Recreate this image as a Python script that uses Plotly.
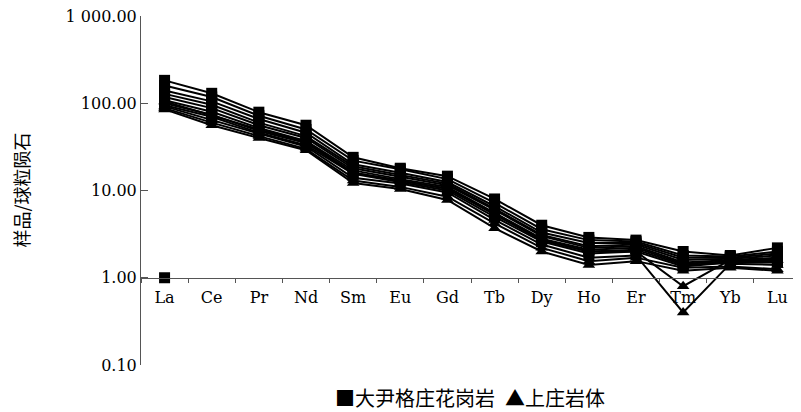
import plotly.graph_objects as go

elements = ["La", "Ce", "Pr", "Nd", "Sm", "Eu", "Gd", "Tb", "Dy", "Ho", "Er", "Tm", "Yb", "Lu"]

# 大尹格庄花岗岩 (squares)
dyg_1 = [183, 130, 79, 56, 24, 18, 14.6, 8.0, 4.0, 2.9, 2.7, 2.0, 1.8, 2.2]
dyg_2 = [160, 118, 72, 50, 22, 17.5, 13.5, 7.2, 3.6, 2.7, 2.6, 1.8, 1.75, 2.0]
dyg_3 = [140, 105, 66, 46, 20, 16, 12.5, 6.6, 3.3, 2.5, 2.5, 1.7, 1.7, 1.9]
dyg_4 = [128, 96, 60, 42, 19, 15, 12, 6.2, 3.1, 2.3, 2.4, 1.6, 1.65, 1.8]
dyg_5 = [118, 88, 56, 40, 18, 14.5, 11.5, 6.0, 3.0, 2.2, 2.3, 1.5, 1.6, 1.7]
dyg_6 = [108, 80, 52, 37, 17, 13.5, 11, 5.6, 2.8, 2.1, 2.2, 1.45, 1.55, 1.6]
dyg_7 = [100, 74, 48, 35, 16, 13, 10.5, 5.3, 2.7, 2.0, 2.1, 1.4, 1.5, 1.55]
dyg_8 = [95, 70, 46, 33, 15.5, 12.5, 10, 5.0, 2.6, 1.9, 2.0, 1.35, 1.5, 1.5]

# 上庄岩体 (triangles)
sz_1 = [105, 72, 50, 36, 16, 13, 10.5, 5.5, 2.7, 2.0, 2.0, 0.8, 1.6, 1.6]
sz_2 = [92, 64, 45, 32, 14, 12, 9.5, 4.6, 2.4, 1.7, 1.8, 0.4, 1.45, 1.4]
sz_3 = [88, 60, 42, 30, 13, 11, 8.5, 4.2, 2.2, 1.55, 1.7, 1.3, 1.35, 1.25]
sz_4 = [85, 56, 40, 29, 12.2, 10.4, 7.8, 3.7, 2.0, 1.4, 1.55, 1.2, 1.3, 1.2]

# stray square marker sitting on the axis at La
stray_x = ["La"]
stray_y = [1.0]

y_tickvals = [0.1, 1, 10, 100, 1000]
y_ticktext = ["0.10", "1.00", "10.00", "100.00", "1 000.00"]

legend_text = "■大尹格庄花岗岩\u2002▲上庄岩体"
y_title = "样品/球粒陨石"

fig = go.Figure()

for s in [dyg_1, dyg_2, dyg_3, dyg_4, dyg_5, dyg_6, dyg_7, dyg_8]:
    fig.add_trace(go.Scatter(x=elements, y=s, mode="lines+markers",
                             line=dict(color="black", width=2),
                             marker=dict(symbol="square", size=11, color="black"),
                             showlegend=False))
for s in [sz_1, sz_2, sz_3, sz_4]:
    fig.add_trace(go.Scatter(x=elements, y=s, mode="lines+markers",
                             line=dict(color="black", width=2),
                             marker=dict(symbol="triangle-up", size=11, color="black"),
                             showlegend=False))

fig.add_trace(go.Scatter(x=stray_x, y=stray_y, mode="markers",
                         marker=dict(symbol="square", size=11, color="black"),
                         showlegend=False, cliponaxis=False))

serif = "DejaVu Serif, Liberation Serif, serif"
cjk = "Noto Sans CJK SC"

# page body adds an 8px offset; figure sized to fit the window
W, H = 793, 404
L, R, T, B = 133, 0, 8, 47
pw = W - L - R
ph = H - T - B

fig.update_layout(
    width=W, height=H,
    margin=dict(l=L, r=R, t=T, b=B),
    paper_bgcolor="white", plot_bgcolor="white",
    showlegend=False,
    xaxis=dict(
        type="category", categoryorder="array", categoryarray=elements,
        range=[-0.5, 13.5],
        anchor="free", position=0.25,
        showline=True, linecolor="#555", linewidth=1,
        ticks="outside", ticklen=4, tickcolor="#555", tickson="boundaries",
        ticklabelstandoff=5,
        showgrid=False, zeroline=False,
        tickfont=dict(family=serif, size=16, color="black"),
    ),
    yaxis=dict(
        type="log", range=[-1, 3], domain=[0, 1],
        showline=True, linecolor="#555", linewidth=1,
        ticks="inside", ticklen=7, tickcolor="#555",
        tickvals=y_tickvals, ticktext=y_ticktext,
        ticklabeloverflow="allow",
        showgrid=False, zeroline=False,
        tickfont=dict(family=serif, size=16, color="black"),
    ),
    annotations=[
        dict(text=y_title, textangle=-90, xref="paper", yref="paper",
             x=(12 - L) / pw, y=0.5, xanchor="center", yanchor="middle",
             showarrow=False, font=dict(family=cjk, size=18, color="black")),
        dict(text=legend_text, xref="paper", yref="paper",
             x=(462 - L) / pw, y=-(389 - (T + ph)) / ph, xanchor="center", yanchor="middle",
             showarrow=False, font=dict(family=cjk, size=20, color="black")),
    ],
)

fig.write_html("out.html")
